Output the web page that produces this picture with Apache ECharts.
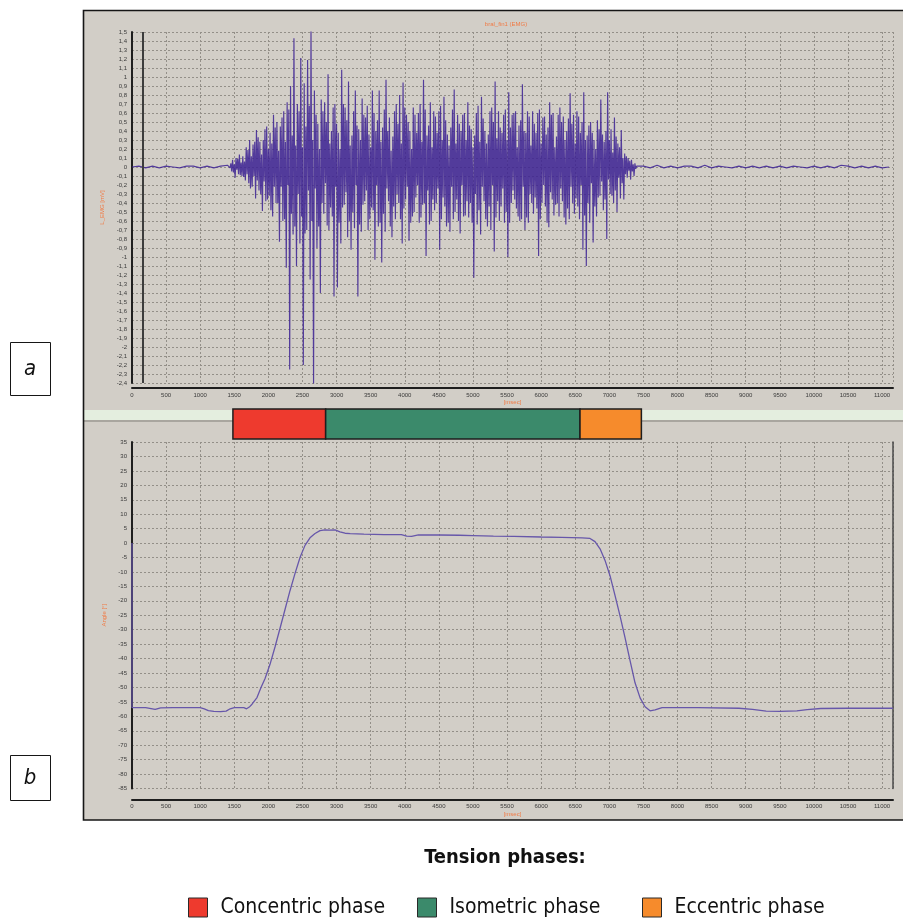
<!DOCTYPE html>
<html>
<head>
<meta charset="utf-8">
<script src="https://cdn.jsdelivr.net/npm/echarts@6/dist/echarts.min.js"></script>
<style>
  html, body { margin: 0; padding: 0; background: #ffffff; }
  #chart { width: 903px; height: 918px; }
</style>
</head>
<body>
<div id="chart"></div>
<script>
// ---- EMG channel (mV): quiet baseline, active burst, quiet baseline ----
const emgPreStart = 0;
const emgPreStep = 100;
const emgPre = [0.00, 0.01, -0.01, 0.01, -0.01, 0.01, 0.00, -0.01, 0.01, 0.01, -0.01, 0.01, -0.01, 0.01, 0.02];

const emgActiveStart = 1425;
const emgActiveStep = 12.5;
const emgActive = [
  0.02, -0.01, 0.04, -0.05, 0.08, -0.06, 0.03, -0.12, 0.10, -0.03, 0.09, -0.08, 0.14, -0.09, 0.05, -0.10, 0.12, -0.11, 0.06, -0.15,
  0.22, -0.08, 0.19, -0.18, 0.30, -0.24, 0.12, -0.22, 0.25, -0.10, 0.28, -0.35, 0.41, -0.15, 0.33, -0.26, 0.28, -0.30, 0.14, -0.49,
  0.30, -0.16, 0.42, -0.38, 0.45, -0.36, 0.20, -0.32, 0.38, -0.48, 0.26, -0.55, 0.58, -0.22, 0.44, -0.40, 0.50, -0.40, 0.18, -0.83,
  0.45, -0.22, 0.55, -0.60, 0.62, -0.58, 0.28, -1.12, 0.72, -0.20, 0.64, -2.25, 0.90, -0.52, 0.35, -0.75, 1.43, -0.66, 0.24, -1.10,
  0.70, -0.30, 0.62, -0.85, 1.21, -0.55, 0.22, -2.20, 0.93, -0.74, 0.45, -0.70, 1.19, -0.26, 0.68, -1.25, 1.53, -0.60, 0.30, -2.44,
  0.85, -0.24, 0.58, -0.90, 0.48, -0.66, 0.20, -1.40, 0.75, -0.40, 0.62, -0.52, 0.72, -0.18, 0.50, -0.65, 1.03, -0.70, 0.26, -0.45,
  0.40, -0.55, 0.66, -1.44, 0.70, -0.22, 0.48, -1.34, 0.38, -0.62, 0.20, -0.85, 1.08, -0.45, 0.70, -0.42, 0.66, -0.28, 0.52, -0.78,
  0.95, -0.60, 0.24, -0.92, 0.35, -0.50, 0.62, -0.68, 0.85, -0.20, 0.46, -1.44, 0.42, -0.64, 0.30, -0.72, 0.76, -0.42, 0.58, -0.38,
  0.55, -0.26, 0.68, -0.70, 0.36, -0.58, 0.22, -0.45, 0.85, -0.48, 0.60, -1.03, 0.40, -0.20, 0.52, -0.66, 0.85, -0.62, 0.28, -1.06,
  0.44, -0.52, 0.64, -0.72, 0.97, -0.24, 0.40, -0.38, 0.55, -0.66, 0.18, -0.78, 0.34, -0.44, 0.62, -0.58, 0.70, -0.30, 0.48, -0.40,
  0.80, -0.58, 0.26, -0.85, 0.94, -0.46, 0.66, -0.36, 0.58, -0.22, 0.50, -0.82, 0.40, -0.62, 0.20, -0.55, 0.66, -0.50, 0.58, -0.34,
  0.38, -0.20, 0.60, -0.62, 0.70, -0.56, 0.28, -0.42, 0.97, -0.40, 0.64, -0.99, 0.35, -0.26, 0.46, -0.64, 0.72, -0.60, 0.22, -0.36,
  0.62, -0.48, 0.56, -0.40, 0.38, -0.24, 0.62, -0.92, 0.68, -0.58, 0.30, -0.34, 0.78, -0.44, 0.52, -0.66, 0.36, -0.62, 0.24, -0.72,
  0.44, -0.22, 0.64, -0.58, 0.86, -0.50, 0.26, -0.36, 0.58, -0.60, 0.48, -0.74, 0.40, -0.20, 0.58, -0.55, 0.60, -0.54, 0.30, -0.38,
  0.72, -0.56, 0.46, -0.40, 0.42, -0.62, 0.22, -1.23, 0.35, -0.30, 0.60, -0.64, 0.68, -0.48, 0.28, -0.75, 0.78, -0.22, 0.54, -0.38,
  0.40, -0.58, 0.26, -0.66, 0.36, -0.44, 0.62, -0.70, 0.66, -0.20, 0.50, -0.94, 0.95, -0.56, 0.32, -0.38, 0.62, -0.60, 0.44, -0.44,
  0.38, -0.24, 0.58, -0.62, 0.64, -0.50, 0.30, -1.00, 0.83, -0.62, 0.44, -0.40, 0.58, -0.26, 0.60, -0.36, 0.62, -0.46, 0.22, -0.55,
  0.46, -0.60, 0.52, -0.58, 0.92, -0.22, 0.40, -0.70, 0.38, -0.56, 0.62, -0.62, 0.56, -0.30, 0.24, -0.40, 0.62, -0.52, 0.48, -0.34,
  0.38, -0.46, 0.60, -0.99, 0.64, -0.58, 0.26, -0.40, 0.55, -0.20, 0.56, -0.44, 0.36, -0.62, 0.44, -0.67, 0.72, -0.28, 0.58, -0.36,
  0.60, -0.54, 0.22, -0.42, 0.34, -0.40, 0.58, -0.55, 0.66, -0.24, 0.50, -0.38, 0.56, -0.56, 0.30, -0.64, 0.40, -0.46, 0.54, -0.58,
  0.82, -0.22, 0.48, -0.40, 0.58, -0.52, 0.26, -0.35, 0.62, -0.44, 0.56, -0.58, 0.38, -0.20, 0.50, -0.92, 0.83, -0.54, 0.30, -1.10,
  0.35, -0.40, 0.46, -0.62, 0.50, -0.18, 0.38, -0.84, 0.30, -0.44, 0.20, -0.55, 0.52, -0.34, 0.42, -0.32, 0.75, -0.16, 0.36, -0.48,
  0.28, -0.36, 0.40, -0.80, 0.83, -0.14, 0.30, -0.30, 0.42, -0.32, 0.16, -0.40, 0.55, -0.26, 0.34, -0.50, 0.26, -0.12, 0.22, -0.35,
  0.41, -0.18, 0.10, -0.36, 0.15, -0.08, 0.12, -0.12, 0.10, -0.04, 0.07, -0.14, 0.08, -0.05, 0.03, -0.10, 0.04, -0.02, 0.01, 0.00
];

const emgPostStart = 7500;
const emgPostStep = 100;
const emgPost = [
  0.01, -0.01, 0.02, -0.01, 0.01, -0.01, 0.01, 0.01, -0.01, 0.02,
  -0.01, 0.01, 0.00, -0.01, 0.01, -0.01, 0.01, -0.01, 0.01, -0.01,
  0.01, -0.01, 0.01, 0.00, -0.01, 0.01, -0.01, 0.01, -0.01, 0.02,
  0.01, -0.01, 0.01, -0.01, 0.01, -0.01, 0.00
];

// time (ms) of the vertical cursor in the EMG view
const cursorTime = 160;

// ---- Joint angle channel ----
const angleTime = [
  0, 0, 200, 340, 420, 600, 1000, 1060, 1120, 1200, 1300, 1380, 1440, 1500,
  1640, 1680, 1720, 1760, 1833, 1892, 1950, 2024, 2097, 2171, 2244, 2317, 2391,
  2464, 2537, 2610, 2684, 2757, 2830, 2900, 2977, 3050, 3124, 3200, 3400, 3700,
  3950, 4030, 4100, 4200, 4500, 4800, 5000, 5300, 5600, 6000, 6300, 6600, 6717,
  6790, 6864, 6937, 7010, 7084, 7157, 7231, 7304, 7377, 7451, 7524, 7597, 7671,
  7773, 8300, 8900, 9100, 9300, 9500, 9750, 9900, 10100, 10500, 11160
];
const angleValue = [
  0, -57, -57, -57.6, -57.1, -57, -57, -57.4, -58, -58.3, -58.4, -58.2, -57.4, -57,
  -57, -57.4, -56.8, -55.8, -53.5, -50, -47, -42, -36, -29.5, -23, -16.5, -10.5,
  -5, -0.8, 1.8, 3.3, 4.3, 4.6, 4.5, 4.6, 3.9, 3.4, 3.3, 3.1, 2.9,
  2.9, 2.4, 2.3, 2.8, 2.8, 2.7, 2.6, 2.4, 2.3, 2.1, 2.0, 1.8, 1.6,
  0.5, -2, -6, -11.3, -18.2, -25.2, -32.8, -40.7, -48.4, -53.6, -56.7, -58.1, -57.8,
  -57, -57, -57.2, -57.6, -58.2, -58.3, -58.1, -57.7, -57.3, -57.2, -57.2
];

// ---- Tension phases (ms) ----
const phaseNames = ['Concentric phase', 'Isometric phase', 'Eccentric phase'];
const phaseStart = [1480, 2840, 6570];
const phaseEnd = [2840, 6570, 7470];
const phaseColors = ['#ee3a2e', '#3b8a6b', '#f68b2c'];

const xMax = 11160;

// ---- assemble series data ----
const emgData = [];
emgPre.forEach((v, i) => emgData.push([emgPreStart + i * emgPreStep, v]));
emgActive.forEach((v, i) => emgData.push([emgActiveStart + i * emgActiveStep, v]));
emgPost.forEach((v, i) => emgData.push([emgPostStart + i * emgPostStep, v]));
const angleData = angleTime.map((t, i) => [t, angleValue[i]]);

const FONT = '"Liberation Sans", Arial, sans-serif';
const NARROW = '"Liberation Sans Narrow", "DejaVu Sans Condensed", "Roboto Condensed", "Liberation Sans", sans-serif';
const PANEL = '#d2cec7';
const ORANGE_TXT = '#f07a45';

const tickLabel = { fontSize: 6, color: '#3a3a3a', fontFamily: FONT };
const dashedGrid = { show: true, lineStyle: { color: '#938f88', width: 1, type: [2, 2] } };

function timeAxis(gridIndex, offset, margin, nameGap) {
  return {
    type: 'value', gridIndex: gridIndex, min: 0, max: xMax, interval: 500, offset: offset,
    axisLine: { show: true, onZero: false, lineStyle: { color: '#1e1e1e', width: 2 } },
    axisTick: { show: false },
    axisLabel: Object.assign({ margin: margin, showMaxLabel: false, formatter: v => String(v) }, tickLabel),
    splitLine: dashedGrid,
    name: '[msec]', nameLocation: 'middle', nameGap: nameGap,
    nameTextStyle: { color: ORANGE_TXT, fontSize: 6, fontFamily: FONT }
  };
}

function renderPhase(params, api) {
  const p0 = api.coord([api.value(0), 1]);
  const p1 = api.coord([api.value(1), 0]);
  return {
    type: 'rect',
    shape: { x: p0[0], y: p0[1], width: p1[0] - p0[0], height: p1[1] - p0[1] },
    style: api.style({ stroke: '#1e1e1e', lineWidth: 1.5 })
  };
}

const phaseSeries = phaseNames.map((name, i) => ({
  name: name,
  type: 'custom',
  xAxisIndex: 2, yAxisIndex: 2,
  renderItem: renderPhase,
  itemStyle: { color: phaseColors[i], borderColor: '#1e1e1e', borderWidth: 1 },
  encode: { x: [0, 1] },
  data: [[phaseStart[i], phaseEnd[i]]],
  silent: true,
  z: 5
}));

// one legend entry per phase, laid out in a row
const legendLeft = [183, 412, 637];
const phaseLegends = phaseNames.map((name, i) => ({
  data: [name],
  left: legendLeft[i], top: 892,
  icon: 'rect', itemWidth: 19, itemHeight: 19,
  selectedMode: false,
  itemStyle: { borderColor: '#2a2a2a', borderWidth: 1 },
  textStyle: { color: '#111', fontSize: 21, fontFamily: NARROW, padding: [0, 0, 0, 8] }
}));

const panelGraphics = [
  { type: 'rect', z: -100, shape: { x: 83, y: 10, width: 820, height: 400 }, style: { fill: PANEL } },
  { type: 'rect', z: -100, shape: { x: 83, y: 410, width: 820, height: 10 }, style: { fill: '#e4eedf' } },
  { type: 'rect', z: -100, shape: { x: 83, y: 420, width: 820, height: 2 }, style: { fill: '#a9a69f' } },
  { type: 'rect', z: -100, shape: { x: 83, y: 422, width: 820, height: 398 }, style: { fill: PANEL } },
  { type: 'polyline', z: -99, shape: { points: [[903, 10.5], [83.5, 10.5], [83.5, 820], [903, 820]] },
    style: { stroke: '#161616', lineWidth: 1.6, fill: null } },
  { type: 'rect', shape: { x: 10.5, y: 342.5, width: 40, height: 53 }, style: { fill: '#ffffff', stroke: '#161616', lineWidth: 1 } },
  { type: 'text', x: 30, y: 369, style: { text: 'a', font: 'italic 22px ' + NARROW, fill: '#111', align: 'center', verticalAlign: 'middle' } },
  { type: 'rect', shape: { x: 10.5, y: 755.5, width: 40, height: 45 }, style: { fill: '#ffffff', stroke: '#161616', lineWidth: 1 } },
  { type: 'text', x: 30, y: 778, style: { text: 'b', font: 'italic 22px ' + NARROW, fill: '#111', align: 'center', verticalAlign: 'middle' } }
];

const option = {
  animation: false,
  backgroundColor: '#ffffff',
  graphic: panelGraphics,
  title: [
    { text: 'bral_fin1 (EMG)', left: 501, top: 16, textAlign: 'center',
      textStyle: { color: ORANGE_TXT, fontSize: 6, fontWeight: 'normal', fontFamily: FONT } },
    { text: 'Tension phases:', left: 500, top: 843, textAlign: 'center',
      textStyle: { color: '#111', fontSize: 20, fontWeight: 'bold', fontFamily: NARROW } }
  ],
  legend: phaseLegends,
  grid: [
    { left: 132, right: 10, top: 32, height: 351 },
    { left: 132, right: 10, top: 442, height: 346.5 },
    { left: 132, right: 10, top: 409, height: 30 }
  ],
  xAxis: [
    timeAxis(0, 5, 4, 11),
    timeAxis(1, 11, 4, 12),
    { type: 'value', gridIndex: 2, min: 0, max: xMax, show: false }
  ],
  yAxis: [
    {
      type: 'value', gridIndex: 0, min: -2.4, max: 1.5, interval: 0.1,
      axisLine: { show: true, lineStyle: { color: '#1e1e1e', width: 2 } },
      axisTick: { show: false },
      axisLabel: Object.assign({
        margin: 5,
        formatter: v => String(Number(v.toFixed(1))).replace('.', ',')
      }, tickLabel),
      splitLine: dashedGrid,
      name: 'L_EMG [mV]', nameLocation: 'middle', nameGap: 20,
      nameTextStyle: { color: ORANGE_TXT, fontSize: 6, fontFamily: FONT }
    },
    {
      type: 'value', gridIndex: 1, min: -85, max: 35, interval: 5,
      axisLine: { show: true, lineStyle: { color: '#1e1e1e', width: 2 } },
      axisTick: { show: false },
      axisLabel: Object.assign({ margin: 5 }, tickLabel),
      splitLine: dashedGrid,
      name: 'Angle [°]', nameLocation: 'middle', nameGap: 21,
      nameTextStyle: { color: ORANGE_TXT, fontSize: 6, fontFamily: FONT }
    },
    { type: 'value', gridIndex: 2, min: 0, max: 1, show: false },
    {
      type: 'value', gridIndex: 1, min: -85, max: 35, interval: 5, position: 'right',
      axisLine: { show: true, lineStyle: { color: '#4a4a4a', width: 1.5 } },
      axisTick: { show: false }, axisLabel: { show: false }, splitLine: { show: false }
    }
  ],
  series: [
    {
      name: 'EMG', type: 'line', xAxisIndex: 0, yAxisIndex: 0,
      data: emgData, showSymbol: false, symbol: 'none',
      lineStyle: { color: '#3c2193', width: 1.15, opacity: 0.85 },
      z: 3,
      markLine: {
        silent: true, symbol: ['none', 'none'], label: { show: false },
        lineStyle: { color: '#3c3c3c', width: 2, type: 'solid' },
        data: [{ xAxis: cursorTime }]
      }
    },
    {
      name: 'Angle', type: 'line', xAxisIndex: 1, yAxisIndex: 1,
      data: angleData, showSymbol: false, symbol: 'none',
      lineStyle: { color: '#6757aa', width: 1.3 },
      z: 3
    }
  ].concat(phaseSeries)
};

const chart = echarts.init(document.getElementById('chart'), null, { renderer: 'canvas' });
chart.setOption(option);
</script>
</body>
</html>
